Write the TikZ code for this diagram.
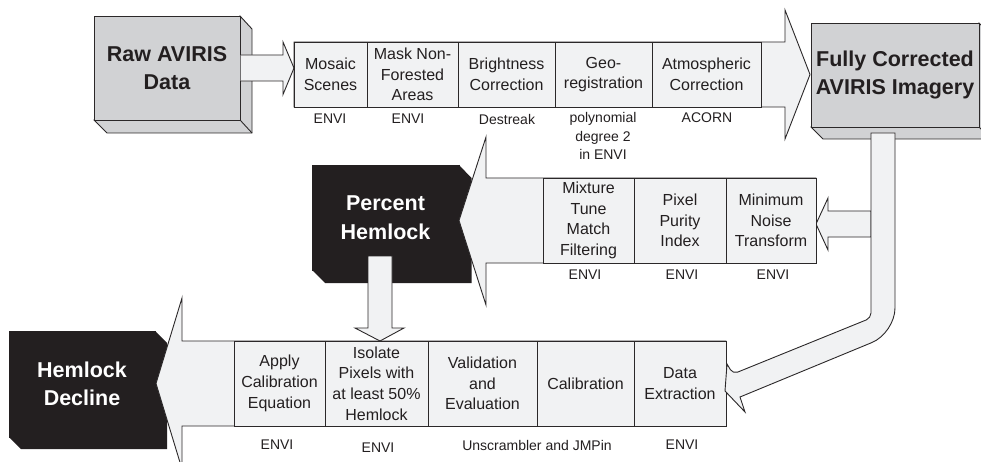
\documentclass[tikz,border=0pt]{standalone}
\usepackage{fontspec}
\setmainfont{Liberation Sans}
\definecolor{linec}{HTML}{2B2829}
\definecolor{textc}{HTML}{231F20}
\definecolor{boxgray}{HTML}{D1D2D4}
\definecolor{arrowfill}{HTML}{F1F2F3}
\definecolor{blackc}{HTML}{231F20}
\tikzset{
  ln/.style={draw=linec, line width=0.9pt, line join=miter},
  boxface/.style={ln, fill=boxgray},
  darkface/.style={draw=blackc, fill=blackc},
  arrowbody/.style={ln, fill=arrowfill},
  cell/.style={ln, fill=arrowfill, inner sep=0pt, align=center, text=textc, font=\fontsize{16}{20.7}\selectfont},
  lbl/.style={inner sep=0pt, align=center, text=textc, font=\fontsize{14}{18.5}\selectfont},
  bigtxt/.style={inner sep=0pt, align=center, font=\bfseries\fontsize{21.5}{28.5}\selectfont},
}
\begin{document}
\begin{tikzpicture}[x=1pt,y=-1pt]
\useasboundingbox (0,0) rectangle (981,462);
\clip (0,0) rectangle (981,462);
\fill[white] (0,0) rectangle (981,462);

% ---- Raw AVIRIS Data box
\draw[boxface] (240,16) -- (252,29) -- (252,133) -- (107,133) -- (94,120) -- cycle;
\node[boxface, bigtxt, text=textc, minimum width=146pt, minimum height=104pt] (raw) at (167,68) {Raw AVIRIS\\Data};
\draw[ln] (raw.south east) -- (252,133);

% ---- small arrow raw -> mosaic
\fill[arrowfill] (240.5,55) -- (283,55) -- (283,42) -- (294,68) -- (283,94.5) -- (283,81) -- (240.5,81) -- cycle;
\draw[ln] (240.5,55) -- (283,55) -- (283,42) -- (294,68) -- (283,94.5) -- (283,81) -- (240.5,81);

% ---- top process arrow
\draw[arrowbody] (294,42) -- (785,42) -- (785,10) -- (810,74.5) -- (785,139) -- (785,107) -- (294,107) -- cycle;
\node[cell, minimum width=73pt, minimum height=65pt] (mosaic) at (330.5,74.5) {Mosaic\\Scenes};
\node[cell, minimum width=91pt, minimum height=65pt] (mask) at (412.5,74.5) {Mask Non-\\Forested\\Areas};
\node[cell, minimum width=97pt, minimum height=65pt] (bright) at (506.5,74.5) {Brightness\\Correction};
\node[cell, minimum width=97pt, minimum height=65pt] (geo) at (603.5,74.5) {Geo-\\registration};
\node[cell, minimum width=109pt, minimum height=65pt] (atmo) at (706.5,74.5) {Atmospheric\\Correction};
\node[lbl] (l1) at (330,119) {ENVI};
\node[lbl] (l2) at (408,119) {ENVI};
\node[lbl] (l3) at (507,119) {Destreak};
\node[lbl] (l4) at (603,136) {polynomial\\degree 2\\in ENVI};
\node[lbl] (l5) at (707,118) {ACORN};

% ---- Fully Corrected box
\draw[boxface] (979,23) -- (991,35) -- (991,139) -- (823,139) -- (811,127) -- cycle;
\node[boxface, bigtxt, text=textc, minimum width=168pt, minimum height=104pt] (fully) at (895,75) {Fully Corrected\\AVIRIS Imagery};
\draw[ln] (fully.south east) -- (991,139);

% ---- small arrow into Minimum Noise Transform
\draw[arrowbody] (871,211) -- (828,211) -- (828,198) -- (816,224) -- (828,250) -- (828,237) -- (871,237) -- cycle;

% ---- Percent Hemlock box
\fill[blackc] (459,165) -- (471.5,178) -- (471.5,283) -- (325,283) -- (312,270) -- cycle;
\node[darkface, bigtxt, text=white, minimum width=147pt, minimum height=105pt] (percent) at (385.5,217.5) {Percent\\Hemlock};

% ---- middle process arrow
\draw[arrowbody] (816,178) -- (486,178) -- (486,137) -- (459,220.5) -- (486,305) -- (486,263) -- (816,263) -- cycle;
\node[cell, minimum width=91pt, minimum height=85pt] (mtmf) at (588.5,220.5) {Mixture\\Tune\\Match\\Filtering};
\node[cell, minimum width=92pt, minimum height=85pt] (ppi) at (680,220.5) {Pixel\\Purity\\Index};
\node[cell, minimum width=90pt, minimum height=85pt] (mnf) at (771,220.5) {Minimum\\Noise\\Transform};
\node[lbl] (m1) at (585,275) {ENVI};
\node[lbl] (m2) at (682,275) {ENVI};
\node[lbl] (m3) at (773,275) {ENVI};

% ---- Hemlock Decline box
\fill[blackc] (155,331) -- (167,343) -- (167,449) -- (21,449) -- (9,437) -- cycle;
\node[darkface, bigtxt, text=white, minimum width=146pt, minimum height=106pt] (decline) at (82,384) {Hemlock\\Decline};

% ---- bottom process arrow
\draw[arrowbody] (726,341) -- (182,341) -- (182,298) -- (156,383.5) -- (182,469) -- (182,426) -- (726,426) -- cycle;
\node[cell, minimum width=91pt, minimum height=85pt] (apply) at (279.5,383.5) {Apply\\Calibration\\Equation};
\node[cell, minimum width=103pt, minimum height=85pt] (isolate) at (376.5,383.5) {Isolate\\Pixels with\\at least 50\%\\Hemlock};
\node[cell, minimum width=109pt, minimum height=85pt] (valid) at (482.5,383.5) {Validation\\and\\Evaluation};
\node[cell, minimum width=97pt, minimum height=85pt] (calib) at (585.5,383.5) {Calibration};
\node[cell, minimum width=92pt, minimum height=85pt] (extract) at (680,383.5) {Data\\Extraction};
\node[lbl] (b1) at (277,445) {ENVI};
\node[lbl] (b2) at (378,448) {ENVI};
\node[lbl] (b3) at (537,445) {Unscrambler and JMPin};
\node[lbl] (b4) at (682,445) {ENVI};

% ---- down arrow from Percent Hemlock to Isolate
\draw[arrowbody] (368,256) -- (368,328) -- (355,328) -- (380,341) -- (404,328) -- (392,328) -- (392,256) -- cycle;

% ---- bent arrow from Fully Corrected to Data Extraction
\draw[arrowbody] (871,133) -- (895,133) [rounded corners=25pt] -- (895,333) [sharp corners] -- (740,397) -- (745,412) -- (725,391) -- (727,364) [rounded corners=5pt] -- (733,374) -- (871,318) [sharp corners] -- (871,133) -- cycle;
\end{tikzpicture}
\end{document}
